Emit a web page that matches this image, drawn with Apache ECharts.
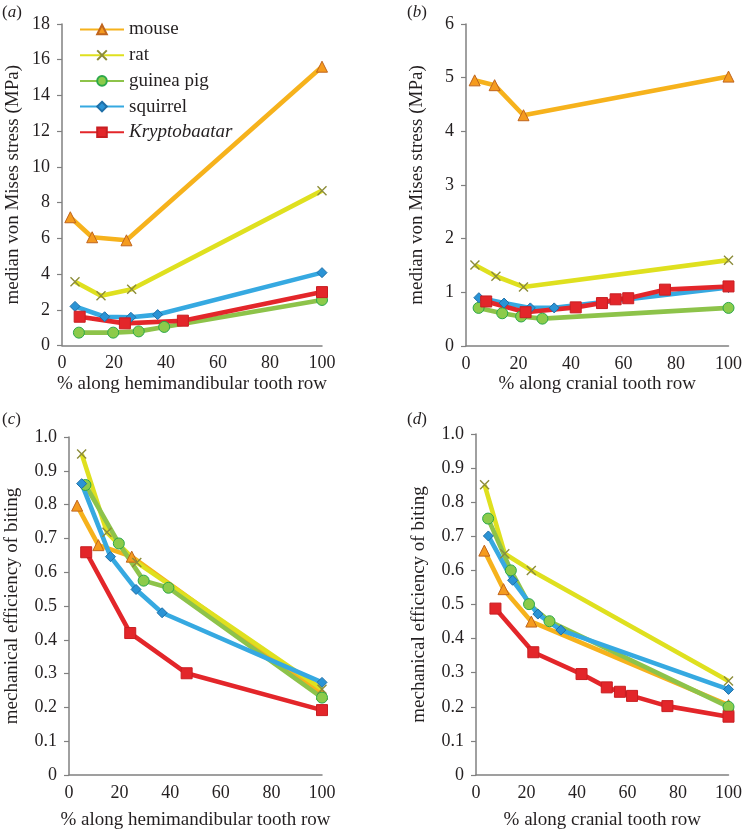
<!DOCTYPE html>
<html>
<head>
<meta charset="utf-8">
<script src="https://cdn.jsdelivr.net/npm/echarts@6/dist/echarts.min.js"></script>
<style>
html,body{margin:0;padding:0;background:#fff;}
#chart{width:745px;height:831px;}
</style>
</head>
<body>
<div id="chart"></div>
<script>
// ---------- data ----------
const speciesNames = ['mouse', 'rat', 'guinea pig', 'squirrel', 'Kryptobaatar'];

// % along hemimandibular tooth row (panels a, c)
const mouseXMand    = [3.2, 11.6, 24.8, 100];
const ratXMand      = [5.0, 15.0, 26.8, 100];
const guineaXMand   = [6.5, 19.7, 29.5, 39.3, 100];
const squirrelXMand = [5.0, 16.4, 26.5, 36.8, 100];
const krypXMand     = [6.8, 24.2, 46.5, 100];

// % along cranial tooth row (panels b, d)
const mouseXCran    = [3.3, 10.9, 21.9, 100];
const ratXCran      = [3.4, 11.4, 21.9, 100];
const guineaXCran   = [4.8, 13.8, 21.0, 29.1, 100];
const squirrelXCran = [4.9, 14.5, 24.5, 33.6, 100];
const krypXCran     = [7.7, 22.7, 41.8, 51.8, 57.0, 61.8, 75.8, 100];

// (a) median von Mises stress (MPa), hemimandible
const mouseA    = [7.18, 6.06, 5.89, 15.61];
const ratA      = [3.57, 2.79, 3.15, 8.67];
const guineaA   = [0.72, 0.72, 0.79, 1.04, 2.55];
const squirrelA = [2.19, 1.61, 1.58, 1.73, 4.08];
const krypA     = [1.61, 1.24, 1.39, 2.99];

// (b) median von Mises stress (MPa), cranium
const mouseB    = [4.95, 4.86, 4.30, 5.02];
const ratB      = [1.51, 1.30, 1.10, 1.60];
const guineaB   = [0.71, 0.61, 0.55, 0.51, 0.71];
const squirrelB = [0.90, 0.80, 0.71, 0.71, 1.09];
const krypB     = [0.83, 0.63, 0.72, 0.80, 0.87, 0.89, 1.05, 1.11];

// (c) mechanical efficiency of biting, hemimandible
const mouseC    = [0.797, 0.680, 0.646, 0.240];
const ratC      = [0.950, 0.718, 0.629, 0.254];
const guineaC   = [0.858, 0.685, 0.575, 0.554, 0.229];
const squirrelC = [0.862, 0.646, 0.549, 0.480, 0.274];
const krypC     = [0.659, 0.420, 0.301, 0.192];

// (d) mechanical efficiency of biting, cranium
const mouseD    = [0.658, 0.545, 0.450, 0.205];
const ratD      = [0.851, 0.649, 0.600, 0.276];
const guineaD   = [0.752, 0.600, 0.501, 0.451, 0.200];
const squirrelD = [0.701, 0.571, 0.472, 0.425, 0.251];
const krypD     = [0.488, 0.360, 0.296, 0.257, 0.244, 0.232, 0.202, 0.171];

const xTicksMax = 100;
const yAxisNameStress = 'median von Mises stress (MPa)';
const yAxisNameME = 'mechanical efficiency of biting';
const xAxisNameMand = '% along hemimandibular tooth row';
const xAxisNameCran = '% along cranial tooth row';

// ---------- styles ----------
const FONT = '"Liberation Serif", "DejaVu Serif", serif';
const TXT = '#231f20';
const AX = '#808080';

const styles = {
  'mouse':        {line:'#F6B21C', symbol:'triangle', size:11, fill:'#F59B1E', border:'#C0651E', bw:1},
  'rat':          {line:'#DFE01F', symbol:'path://M0,0L10,10M10,0L0,10', size:9, fill:'#8C8C3A', border:'#8C8C3A', bw:1.4},
  'guinea pig':   {line:'#8DC34A', symbol:'circle', size:11, fill:'#8CCB4A', border:'#2BA84A', bw:1},
  'squirrel':     {line:'#36A9E1', symbol:'diamond', size:10, fill:'#2A93D5', border:'#1E6FA8', bw:1},
  'Kryptobaatar': {line:'#E3262A', symbol:'rect', size:11, fill:'#E3262A', border:'#C81E22', bw:1}
};

function zip(xs, ys){ return xs.map((x,i)=>[x, ys[i]]); }

function mk(name, xs, ys, idx){
  const s = styles[name];
  return {
    name: name, type:'line', xAxisIndex: idx, yAxisIndex: idx,
    data: zip(xs, ys),
    symbol: s.symbol, symbolSize: s.size,
    clip: false,
    lineStyle: {color: s.line, width: 4.6},
    itemStyle: {color: s.fill, borderColor: s.border, borderWidth: s.bw},
    emphasis: {disabled: true},
    animation: false
  };
}

const series = [
  mk('mouse', mouseXMand, mouseA, 0),
  mk('rat', ratXMand, ratA, 0),
  mk('guinea pig', guineaXMand, guineaA, 0),
  mk('squirrel', squirrelXMand, squirrelA, 0),
  mk('Kryptobaatar', krypXMand, krypA, 0),

  mk('mouse', mouseXCran, mouseB, 1),
  mk('rat', ratXCran, ratB, 1),
  mk('guinea pig', guineaXCran, guineaB, 1),
  mk('squirrel', squirrelXCran, squirrelB, 1),
  mk('Kryptobaatar', krypXCran, krypB, 1),

  mk('mouse', mouseXMand, mouseC, 2),
  mk('rat', ratXMand, ratC, 2),
  mk('guinea pig', guineaXMand, guineaC, 2),
  mk('squirrel', squirrelXMand, squirrelC, 2),
  mk('Kryptobaatar', krypXMand, krypC, 2),

  mk('mouse', mouseXCran, mouseD, 3),
  mk('rat', ratXCran, ratD, 3),
  mk('guinea pig', guineaXCran, guineaD, 3),
  mk('squirrel', squirrelXCran, squirrelD, 3),
  mk('Kryptobaatar', krypXCran, krypD, 3)
];

const grids = [
  {left:62,  top:24,  width:260, height:321.5},
  {left:466, top:24,  width:264, height:322},
  {left:69,  top:437, width:253, height:338},
  {left:476, top:434, width:254, height:341}
];

function xAx(idx, name, gap){
  return {
    type:'value', gridIndex: idx, min:0, max:xTicksMax, interval:20,
    name: name, nameLocation:'middle', nameGap: gap,
    nameTextStyle:{fontFamily:FONT, fontSize:19, color:TXT},
    axisLine:{show:true, lineStyle:{color:AX, width:1.5}},
    axisTick:{show:false},
    axisLabel:{fontFamily:FONT, fontSize:18, color:TXT, margin:9},
    splitLine:{show:false}
  };
}
function yAx(idx, max, interval, name, gap, fmt){
  return {
    type:'value', gridIndex: idx, min:0, max:max, interval:interval,
    name: name, nameLocation:'middle', nameGap: gap,
    nameTextStyle:{fontFamily:FONT, fontSize:19, color:TXT},
    axisLine:{show:true, lineStyle:{color:AX, width:1.5}},
    axisTick:{show:true, length:5, lineStyle:{color:AX, width:1.2}},
    axisLabel:{fontFamily:FONT, fontSize:18, color:TXT, margin:12, formatter: fmt},
    splitLine:{show:false}
  };
}
const fmt1 = v => (v === 0 ? '0' : v.toFixed(1));
const fmt0 = v => String(Math.round(v));

function panelLabel(letter, x, y){
  return {
    type:'text', left:x, top:y,
    style:{
      text:'{p|(}{i|' + letter + '}{p|)}',
      rich:{
        p:{fontFamily:FONT, fontSize:17, fill:TXT},
        i:{fontFamily:FONT, fontSize:17, fontStyle:'italic', fill:TXT}
      }
    }
  };
}

const option = {
  backgroundColor:'#fff',
  animation:false,
  grid: grids,
  xAxis: [
    xAx(0, xAxisNameMand, 29),
    xAx(1, xAxisNameCran, 29),
    xAx(2, xAxisNameMand, 36),
    xAx(3, xAxisNameCran, 36)
  ],
  yAxis: [
    yAx(0, 18, 2, yAxisNameStress, 39, fmt0),
    yAx(1, 6, 1, yAxisNameStress, 39, fmt0),
    yAx(2, 1, 0.1, yAxisNameME, 47, fmt1),
    yAx(3, 1, 0.1, yAxisNameME, 47, fmt1)
  ],
  legend: {
    data: speciesNames,
    orient:'vertical', left:74, top:15, padding:5,
    itemWidth:44, itemHeight:12, itemGap:6.7,
    selectedMode:false,
    textStyle:{fontFamily:FONT, fontSize:19, color:TXT,
      rich:{i:{fontFamily:FONT, fontSize:19, fontStyle:'italic', color:TXT}}},
    formatter: n => (n === 'Kryptobaatar' ? '{i|' + n + '}' : n)
  },
  graphic: [
    panelLabel('a', 2, 4),
    panelLabel('b', 407, 4),
    panelLabel('c', 2, 411),
    panelLabel('d', 407, 411)
  ],
  series: series
};

const chart = echarts.init(document.getElementById('chart'), null, {renderer:'canvas'});
chart.setOption(option);
</script>
</body>
</html>
